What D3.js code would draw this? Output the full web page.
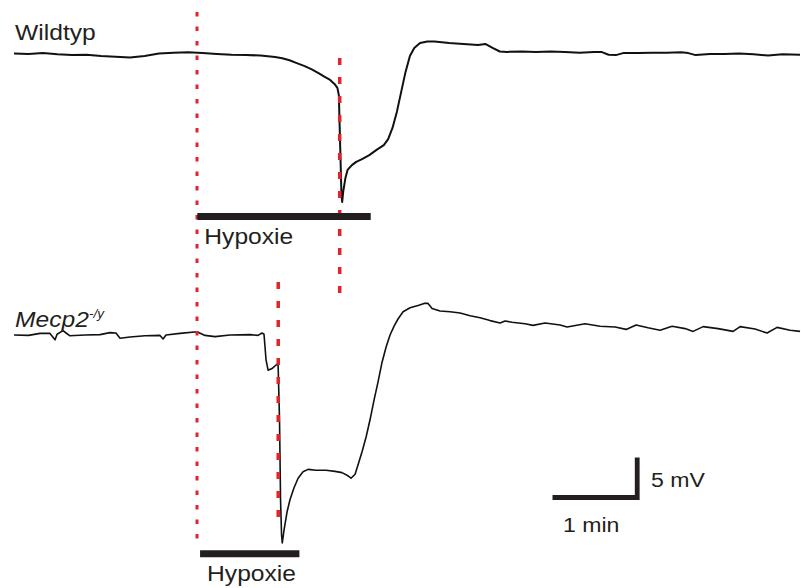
<!DOCTYPE html>
<html>
<head>
<meta charset="utf-8">
<script src="https://cdn.jsdelivr.net/npm/d3@7"></script>
<style>
  body { margin: 0; background: #fff; }
  text { font-family: "Liberation Sans", Arial, sans-serif; fill: #231f20; }
</style>
</head>
<body>
<div id="chart"></div>
<script>
// DATA: time in s from start of recording, potential in mV relative to baseline
const traceNames = ["Wildtyp", "Mecp2"];
const wildtypTrace = [
  [0, 0], [10, -0.05], [20, 0.05], [30, -0.1], [40, -0.2], [50, -0.15], [60, -0.3],
  [70, -0.4], [80, -0.5], [90, -0.3], [100, 0], [110, 0.1], [120, 0.15], [130, 0.05],
  [140, -0.05], [150, -0.15], [160, -0.2], [170, -0.25], [175, -0.35], [180, -0.45],
  [185, -0.6], [190, -0.85], [195, -1.2], [200, -1.55], [205, -1.95], [210, -2.45],
  [214, -2.9], [218, -3.3], [221, -3.8], [223, -4.3], [224, -5.2], [225, -12.1],
  [225.8, -17.7], [226.3, -18.55], [227, -17.3], [228.5, -15.6], [230, -14.55],
  [233, -13.95], [236, -13.55], [240, -13.2], [245, -12.7], [250, -12.05], [255, -11.45],
  [258, -10.7], [261, -9.3], [264, -7.3], [267, -4.8], [270, -2.3], [273, -0.3],
  [276, 0.7], [280, 1.3], [285, 1.5], [290, 1.5], [300, 1.3], [310, 1.2], [320, 1.05],
  [325, 1.2], [330, 0.7], [335, 0.25], [340, 0.2], [350, 0.25], [360, 0.2], [370, 0.25],
  [380, 0.2], [390, 0.1], [400, 0.2], [405, 0.2], [410, -0.15], [415, -0.2], [420, 0.05],
  [430, 0.05], [440, 0.1], [450, 0.1], [460, 0.15], [465, 0.05], [470, -0.2], [480, -0.05],
  [490, -0.05], [500, 0], [510, -0.1], [520, -0.25], [530, -0.1], [542, -0.15]
];
const mecp2Trace = [
  [0, 0], [10, -0.05], [18, 0.2], [24.8, 0.2], [28.3, -0.6], [29.7, 0.1], [33.8, 0.55],
  [35.9, 0.25], [38.6, -0.1], [49, 0], [59.3, 0.05], [66.2, 0.3], [70.3, 0.25], [73.1, -0.4],
  [80, -0.25], [90.3, -0.1], [100.7, -0.05], [102.8, -0.5], [104.8, 0], [114.5, 0.2],
  [126.2, 0.4], [131.7, -0.05], [138.6, -0.2], [149, 0], [162.8, 0.05], [168.3, -0.05],
  [171, 0.25], [172.4, 0.1], [173.8, -3.1], [175.2, -4.4], [177.9, -4.2], [180.7, -3.75],
  [182.1, -3.6], [183.1, -10.6], [183.8, -20.6], [184.5, -25], [185, -26], [186.2, -24.4],
  [188.3, -22.1], [190.3, -20.6], [193.1, -19.1], [195.9, -17.9], [199.3, -17.1],
  [202.8, -16.8], [208.3, -16.9], [215.2, -16.9], [221.4, -17.05], [226.2, -17.2],
  [230.3, -17.6], [232.4, -17.9], [235.2, -17.4], [237.2, -16.25], [240, -14.6],
  [242.8, -12.75], [245.5, -10.6], [248.3, -8.1], [251, -5.9], [253.8, -3.4], [256.6, -1.5],
  [259.3, 0], [262.1, 1.1], [264.8, 2], [268.3, 2.9], [273.1, 3.4], [278.6, 3.7],
  [282.8, 3.95], [285.5, 3.95], [288.3, 3.3], [293.8, 3], [300.7, 2.9], [307.6, 2.75],
  [314.5, 2.4], [321.4, 2.15], [328.3, 1.8], [335.2, 1.5], [338.6, 1.75], [343.4, 1.6],
  [352.4, 1.4], [357.9, 1.2], [366.2, 1.5], [376.6, 1.25], [381.4, 1], [393.8, 1.4],
  [404.1, 1.1], [414.5, 1], [422.1, 0.7], [429, 1.25], [437.2, 0.9], [445.5, 0.6],
  [453.8, 1.1], [462.8, 0.8], [468.3, 0.45], [475.2, 1.05], [485.5, 0.8], [495.9, 0.45],
  [500.7, 1.05], [511, 0.75], [519.3, 0.25], [526.2, 0.95], [535.2, 0.6], [542, 0.45]
];
// hypoxia periods [start, end] in s
const hypoxiaWT = [126.4, 246];
const hypoxiaMecp2 = [128.3, 196.8];
// onset of hypoxia and of the spreading depression (red markers), s
const hypoxiaOnset = 126.2;
const sdOnset = [224.6, 182.2];
const barLabel = "Hypoxie";
// scale bar
const scaleTime = 60;   // s
const scaleVolt = 5;    // mV
const scaleTimeLabel = "1 min";
const scaleVoltLabel = "5 mV";

const width = 801, height = 588;
const svg = d3.select("#chart").append("svg").attr("width", width).attr("height", height);
svg.append("rect").attr("width", width).attr("height", height).attr("fill", "#fff");

const x = d3.scaleLinear().domain([0, 542]).range([14, 800]);
const yWT = d3.scaleLinear().domain([0, -5]).range([53.5, 93.5]);
const yMe = d3.scaleLinear().domain([0, -5]).range([335, 375]);

const red = "#e2232b";
const ink = "#231f20";

//TRACES
function drawTrace(data, y, sw){
  const line = d3.line().x(d => x(d[0])).y(d => y(d[1]));
  svg.append("path").datum(data)
    .attr("d", line)
    .attr("fill", "none")
    .attr("stroke", "#111")
    .attr("stroke-width", sw)
    .attr("stroke-linejoin", "round");
}
drawTrace(wildtypTrace, yWT, 2.0);
drawTrace(mecp2Trace, yMe, 1.6);

//RED MARKERS
svg.append("line")
  .attr("x1", x(hypoxiaOnset)).attr("x2", x(hypoxiaOnset))
  .attr("y1", 12).attr("y2", 541)
  .attr("stroke", red).attr("stroke-width", 3).attr("stroke-dasharray", "4.5 10");
svg.append("line")
  .attr("x1", x(sdOnset[0])).attr("x2", x(sdOnset[0]))
  .attr("y1", 58).attr("y2", 298)
  .attr("stroke", red).attr("stroke-width", 3.5).attr("stroke-dasharray", "7 12");
svg.append("line")
  .attr("x1", x(sdOnset[1])).attr("x2", x(sdOnset[1]))
  .attr("y1", 282).attr("y2", 520)
  .attr("stroke", red).attr("stroke-width", 3.5).attr("stroke-dasharray", "7 12");

//HYPOXIA BARS
function hypoxiaBar(period, yBar, yText){
  svg.append("line")
    .attr("x1", x(period[0])).attr("x2", x(period[1]))
    .attr("y1", yBar).attr("y2", yBar)
    .attr("stroke", ink).attr("stroke-width", 7);
  svg.append("text")
    .attr("transform", "translate(" + (x(period[0]) + 7) + "," + yText + ") scale(1.12,1)")
    .attr("font-size", 22)
    .text(barLabel);
}
hypoxiaBar(hypoxiaWT, 216.5, 244);
hypoxiaBar(hypoxiaMecp2, 553.7, 581);

//TRACE LABELS
svg.append("text")
  .attr("transform", "translate(15,40) scale(1.12,1)")
  .attr("font-size", 22)
  .text(traceNames[0]);
const me = svg.append("text")
  .attr("transform", "translate(15,327) scale(1.12,1)")
  .attr("font-size", 22)
  .attr("font-style", "italic");
me.append("tspan").text(traceNames[1]);
me.append("tspan").attr("font-size", 12).attr("dy", -9).text("-/y");

//SCALE BAR
const sx0 = 552.5, sy0 = 497.5;
const sx1 = sx0 + (x(scaleTime) - x(0));
const sy1 = sy0 - (yWT(-scaleVolt) - yWT(0));
svg.append("path")
  .attr("d", "M" + sx0 + "," + sy0 + "H" + (sx1 - 2.3) + "V" + sy1)
  .attr("fill", "none")
  .attr("stroke", ink)
  .attr("stroke-width", 4.8);
svg.append("text")
  .attr("transform", "translate(651,487) scale(1.1,1)")
  .attr("font-size", 21)
  .text(scaleVoltLabel);
svg.append("text")
  .attr("transform", "translate(563,532) scale(1.1,1)")
  .attr("font-size", 21)
  .text(scaleTimeLabel);
</script>
</body>
</html>
